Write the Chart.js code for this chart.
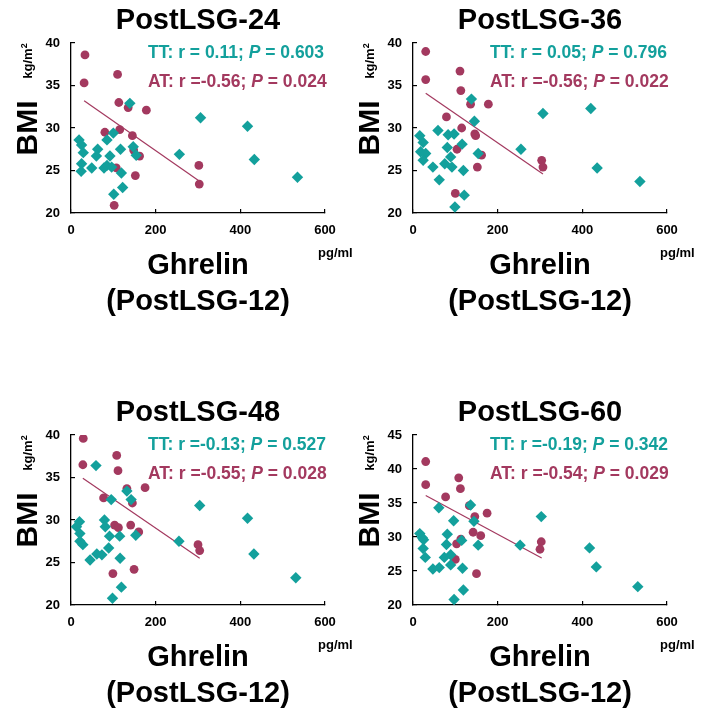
<!DOCTYPE html>
<html>
<head>
<meta charset="utf-8">
<script src="https://cdn.jsdelivr.net/npm/chart.js@4.4.1/dist/chart.umd.min.js"></script>
<style>
  body { margin: 0; background: #fff; width: 702px; height: 711px; position: relative; overflow: hidden; }
  .panel { position: absolute; width: 360px; height: 392px; }
</style>
</head>
<body>
<div class="panel" style="left:0;top:0"><canvas id="c24" width="360" height="392"></canvas></div>
<div class="panel" style="left:342px;top:0"><canvas id="c36" width="360" height="392"></canvas></div>
<div class="panel" style="left:0;top:392px"><canvas id="c48" width="360" height="392"></canvas></div>
<div class="panel" style="left:342px;top:392px"><canvas id="c60" width="360" height="392"></canvas></div>
<script>
// Ghrelin at PostLSG-12 (pg/ml) vs BMI (kg/m2)
const tt24X = [139, 306, 417, 100, 85, 19, 25, 29, 63, 60, 117, 147, 154, 92, 256, 433, 25, 24, 49, 78, 85, 96, 119, 122, 101, 535];
const tt24Y = [32.9, 31.2, 30.2, 29.4, 28.6, 28.6, 28.0, 27.1, 27.5, 26.7, 27.5, 27.8, 26.8, 26.7, 26.9, 26.3, 25.8, 24.9, 25.3, 25.3, 25.6, 25.4, 24.7, 23.0, 22.2, 24.2];
const at24X = [33, 31, 110, 113, 135, 178, 80, 115, 145, 148, 162, 107, 152, 302, 303, 102];
const at24Y = [38.6, 35.3, 36.3, 33.0, 32.4, 32.1, 29.5, 29.8, 29.1, 27.4, 26.7, 25.3, 24.4, 25.6, 23.4, 20.9];
const fit24X = [31, 302];
const fit24Y = [33.2, 23.8];

const tt36X = [138, 307, 420, 145, 59, 16, 83, 97, 24, 116, 81, 18, 30, 255, 154, 89, 24, 75, 47, 92, 119, 435, 62, 121, 99, 536];
const tt36Y = [33.4, 31.7, 32.3, 30.8, 29.7, 29.1, 29.2, 29.3, 28.3, 28.1, 27.7, 27.2, 27.0, 27.5, 27.0, 26.6, 26.2, 25.8, 25.4, 25.4, 25.0, 25.3, 23.9, 22.1, 20.7, 23.7];
const at36X = [30, 30, 111, 113, 136, 178, 79, 115, 146, 148, 104, 162, 152, 304, 307, 100];
const at36Y = [39.0, 35.7, 36.7, 34.4, 32.8, 32.8, 31.3, 30.0, 29.3, 29.1, 27.5, 26.8, 25.4, 26.2, 25.4, 22.3];
const fit36X = [30, 307];
const fit36Y = [34.1, 24.6];

const tt48X = [59, 132, 142, 95, 304, 417, 20, 13, 21, 21, 28, 79, 81, 91, 115, 153, 255, 89, 61, 73, 45, 116, 432, 119, 98, 531];
const tt48Y = [36.4, 33.4, 32.4, 32.4, 31.7, 30.2, 29.8, 29.2, 28.4, 27.5, 27.1, 30.0, 29.2, 28.1, 28.1, 28.2, 27.5, 26.7, 26.0, 25.9, 25.3, 25.5, 26.0, 22.1, 20.8, 23.2];
const at48X = [29, 28, 108, 111, 132, 175, 77, 145, 103, 112, 141, 160, 300, 304, 99, 149];
const at48Y = [39.6, 36.5, 37.6, 35.8, 33.7, 33.8, 32.6, 32.0, 29.4, 29.1, 29.4, 28.6, 27.1, 26.4, 23.7, 24.2];
const fit48X = [28, 304];
const fit48Y = [34.9, 25.5];

const tt60X = [136, 61, 303, 144, 96, 16, 22, 25, 81, 115, 79, 154, 253, 417, 24, 29, 74, 89, 89, 62, 47, 117, 433, 119, 97, 531];
const tt60Y = [34.7, 34.3, 33.0, 32.3, 32.4, 30.5, 29.9, 29.6, 30.4, 29.5, 28.9, 28.8, 28.8, 28.4, 28.3, 27.0, 27.0, 27.4, 25.9, 25.5, 25.3, 25.4, 25.6, 22.2, 20.8, 22.7];
const at60X = [30, 30, 108, 112, 77, 133, 146, 175, 142, 160, 113, 103, 100, 150, 303, 300];
const at60Y = [41.1, 37.7, 38.7, 37.1, 35.9, 34.6, 33.0, 33.5, 30.7, 30.2, 29.7, 29.0, 26.7, 24.6, 29.3, 28.2];
const fit60X = [30, 304];
const fit60Y = [36.1, 26.9];

const xTicks = [0, 200, 400, 600];
const yMax = [40, 40, 40, 45];

const titles = ['PostLSG-24', 'PostLSG-36', 'PostLSG-48', 'PostLSG-60'];
const ttStats = [['0.11', '0.603'], ['0.05', '0.796'], ['-0.13', '0.527'], ['-0.19', '0.342']];
const atStats = [['-0.56', '0.024'], ['-0.56', '0.022'], ['-0.55', '0.028'], ['-0.54', '0.029']];

const TEAL = '#13a09c';
const MAROON = '#a3395f';
const FONT = '"Liberation Sans", Arial, sans-serif';

function pts(xs, ys) {
    return xs.map((x, i) => ({ x: x, y: ys[i] }));
}

function rText(r) {
    // the figure writes "r = 0.11" but "r =-0.56"
    return r.startsWith('-') ? 'r =' + r : 'r = ' + r;
}

// draws "XX: r = ..; P = .." with an italic P
function drawStat(ctx, x, y, label, stat, color) {
    const parts = [
        { t: label + ': ' + rText(stat[0]) + '; ', it: false },
        { t: 'P', it: true },
        { t: ' = ' + stat[1], it: false }
    ];
    ctx.fillStyle = color;
    ctx.textAlign = 'left';
    ctx.textBaseline = 'alphabetic';
    let cx = x;
    parts.forEach(p => {
        ctx.font = (p.it ? 'italic ' : '') + 'bold 17.5px ' + FONT;
        ctx.fillText(p.t, cx, y);
        cx += ctx.measureText(p.t).width;
    });
}

const panelText = {
    id: 'panelText',
    afterDraw(chart, args, opts) {
        const ctx = chart.ctx;
        const a = chart.chartArea;
        const mid = (a.left + a.right) / 2;
        ctx.save();
        ctx.fillStyle = '#000';
        ctx.textBaseline = 'alphabetic';
        ctx.textAlign = 'center';

        ctx.font = 'bold 29px ' + FONT;
        ctx.fillText(opts.title, mid, 29);

        ctx.fillText('Ghrelin', mid, 274);
        ctx.fillText('(PostLSG-12)', mid, 310);

        ctx.textAlign = 'left';
        ctx.font = 'bold 13px ' + FONT;
        ctx.fillText('pg/ml', a.right - 7, 257);

        // y axis title, rotated
        ctx.save();
        ctx.translate(37, (a.top + a.bottom) / 2);
        ctx.rotate(-Math.PI / 2);
        ctx.textAlign = 'center';
        ctx.font = 'bold 30px ' + FONT;
        ctx.fillText('BMI', 0, 0);
        ctx.restore();

        ctx.save();
        ctx.translate(32, 61);
        ctx.rotate(-Math.PI / 2);
        ctx.font = 'bold 13px ' + FONT;
        const w1 = ctx.measureText('kg/m').width;
        ctx.font = 'bold 9px ' + FONT;
        const w2 = ctx.measureText('2').width;
        ctx.textAlign = 'left';
        ctx.font = 'bold 13px ' + FONT;
        ctx.fillText('kg/m', -(w1 + w2) / 2, 0);
        ctx.font = 'bold 9px ' + FONT;
        ctx.fillText('2', -(w1 + w2) / 2 + w1, -5);
        ctx.restore();

        drawStat(ctx, 148, 58, 'TT', opts.tt, TEAL);
        drawStat(ctx, 148, 87, 'AT', opts.at, MAROON);
        ctx.restore();
    }
};

const tickFont = { family: FONT, size: 13, weight: 'bold' };

function makeChart(id, idx, ttX, ttY, atX, atY, fitX, fitY) {
    return new Chart(document.getElementById(id), {
        type: 'scatter',
        data: {
            datasets: [{
                label: 'TT',
                data: pts(ttX, ttY),
                pointStyle: 'rectRot',
                pointRadius: 5.7,
                backgroundColor: TEAL,
                borderColor: TEAL,
                borderWidth: 0
            }, {
                label: 'AT',
                data: pts(atX, atY),
                pointStyle: 'circle',
                pointRadius: 4.4,
                backgroundColor: MAROON,
                borderColor: MAROON,
                borderWidth: 0
            }, {
                label: 'AT fit',
                data: pts(fitX, fitY),
                showLine: true,
                pointRadius: 0,
                borderColor: MAROON,
                borderWidth: 1.2
            }]
        },
        options: {
            responsive: false,
            animation: false,
            devicePixelRatio: 1,
            layout: { padding: { left: 26, right: 35, top: 43, bottom: 149 } },
            plugins: {
                legend: { display: false },
                tooltip: { enabled: false },
                panelText: { title: titles[idx], tt: ttStats[idx], at: atStats[idx] }
            },
            scales: {
                x: {
                    type: 'linear',
                    min: xTicks[0],
                    max: xTicks[xTicks.length - 1],
                    afterBuildTicks: s => { s.ticks = xTicks.map(v => ({ value: v })); },
                    afterFit: s => { s.height = 30; },
                    ticks: { font: tickFont, color: '#000', padding: 14 },
                    grid: { drawOnChartArea: false, tickLength: -4, color: '#000', lineWidth: 1.2 },
                    border: { color: '#000', width: 1.3 }
                },
                y: {
                    type: 'linear',
                    min: 20,
                    max: yMax[idx],
                    afterFit: s => { s.width = 45; },
                    ticks: { stepSize: 5, font: tickFont, color: '#000', padding: 15 },
                    grid: { drawOnChartArea: false, tickLength: -4, color: '#000', lineWidth: 1.2 },
                    border: { color: '#000', width: 1.3 }
                }
            }
        },
        plugins: [panelText]
    });
}

makeChart('c24', 0, tt24X, tt24Y, at24X, at24Y, fit24X, fit24Y);
makeChart('c36', 1, tt36X, tt36Y, at36X, at36Y, fit36X, fit36Y);
makeChart('c48', 2, tt48X, tt48Y, at48X, at48Y, fit48X, fit48Y);
makeChart('c60', 3, tt60X, tt60Y, at60X, at60Y, fit60X, fit60Y);
</script>
</body>
</html>
